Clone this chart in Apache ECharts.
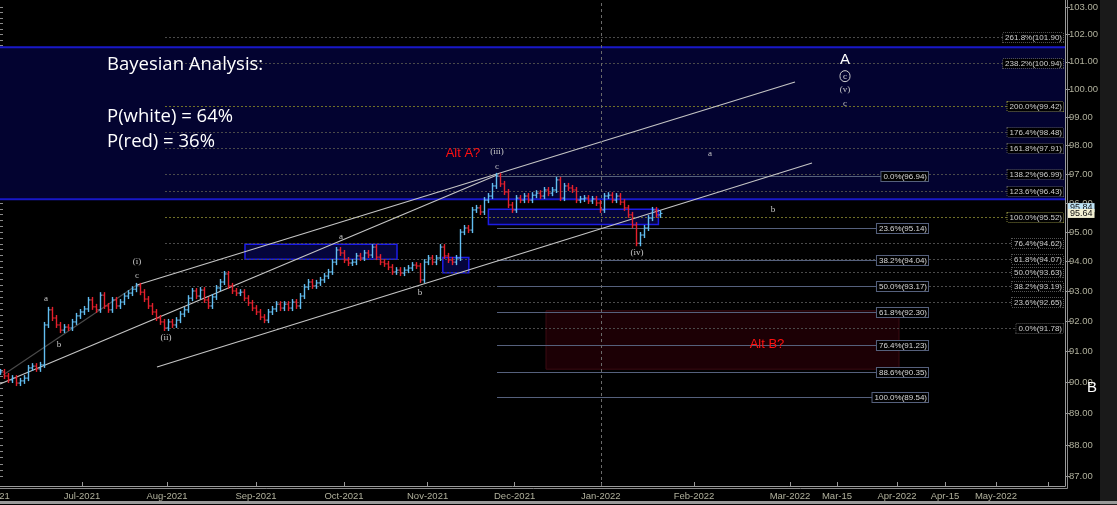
<!DOCTYPE html>
<html><head><meta charset="utf-8">
<script src="https://cdn.jsdelivr.net/npm/echarts@6/dist/echarts.min.js"></script>
<style>html,body{margin:0;padding:0;background:#000;overflow:hidden;width:1117px;height:505px;position:relative}
#c{position:absolute;left:-40px;top:0;width:1157px;height:505px}</style>
</head><body><div id="c"></div>
<script>
// ---- DATA (x unit = one bar slot) ----
const closes = [90.34,90.21,90.08,90.14,89.98,90.05,90.14,90.47,90.53,90.44,
90.57,91.88,92.38,92.11,91.88,91.71,91.81,91.78,91.98,92.18,
92.31,92.41,92.71,92.48,92.38,92.87,92.51,92.38,92.71,92.51,
92.64,92.84,92.94,93.07,93.18,92.97,92.74,92.51,92.31,92.11,
91.98,91.78,91.98,91.88,92.04,92.24,92.38,92.77,93.01,92.84,
93.04,92.71,92.51,92.81,93.11,93.31,93.58,93.18,93.01,92.94,
92.97,92.77,92.61,92.44,92.31,92.14,92.04,92.31,92.41,92.57,
92.44,92.57,92.44,92.64,92.51,92.84,93.14,93.31,93.18,93.28,
93.38,93.51,93.65,93.98,94.39,94.29,94.05,93.95,93.98,94.19,
94.12,94.29,94.22,94.49,94.15,93.98,93.92,93.81,93.65,93.71,
93.61,93.71,93.78,93.88,93.85,93.38,93.98,94.12,93.98,94.12,
94.49,94.19,94.05,93.98,94.12,95.00,95.14,95.07,95.76,95.83,
95.69,96.10,96.24,96.59,96.94,96.66,96.38,95.93,95.76,96.17,
96.10,96.24,96.10,96.27,96.34,96.24,96.45,96.34,96.45,96.80,
96.17,96.59,96.52,96.45,96.10,96.14,96.17,96.07,96.14,96.00,
95.76,96.24,96.27,96.10,96.24,96.03,95.83,95.59,95.24,94.62,
94.90,95.14,95.48,95.76,95.59,95.64];

const xTickLabels = ['Jun-2021','Jul-2021','Aug-2021','Sep-2021','Oct-2021','Nov-2021','Dec-2021',
  'Jan-2022','Feb-2022','Mar-2022','Mar-15','Apr-2022','Apr-15','May-2022',''];
const xTickPos = [-2.5,20.5,41.75,64,86,106.9,128.65,150.2,173.5,197.5,209.25,224.25,236.25,249,262];

const yTickValues = [87,88,89,90,91,92,93,94,95,96,97,98,99,100,101,102,103];

// Fibonacci extension levels (right-hand set)
const fibExtNames  = ['261.8%','238.2%','200.0%','176.4%','161.8%','138.2%','123.6%','100.0%','76.4%','61.8%','50.0%','38.2%','23.6%','0.0%'];
const fibExtValues = [101.90,100.94,99.42,98.48,97.91,96.99,96.43,95.52,94.62,94.07,93.63,93.19,92.65,91.78];
const fibExtStart = 41.25;
// Fibonacci retracement levels (middle set)
const fibRetNames  = ['0.0%','23.6%','38.2%','50.0%','61.8%','76.4%','88.6%','100.0%'];
const fibRetValues = [96.94,95.14,94.04,93.17,92.30,91.23,90.35,89.54];
const fibRetStart = 124.25, fibRetEnd = 232;

// Zones: [kind, xFrom, xTo, priceLow, priceHigh]
const zones = [
  ['band', -10, 266.25, 96.13, 101.53],
  ['box', 61.25, 99.25, 94.08, 94.59],
  ['box', 110.7, 117.2, 93.62, 94.14],
  ['box', 122.1, 164.6, 95.26, 95.78],
  ['red', 136.5, 224.75, 90.43, 92.35]
];

// Trend lines: [[x1, p1], [x2, p2], kind]
const trendLines = [
  [[34.25, 93.21], [198.75, 100.27], 'l'],
  [[0, 89.95], [124.25, 96.97], 'l'],
  [[39.25, 90.50], [203, 97.39], 'l'],
  [[0.75, 90.24], [34.25, 93.21], 'd']
];

// Wave labels: [text, x, price, kind]
const waveLabels = [
  ['a', 11.5, 92.77, 'w'], ['b', 14.75, 91.22, 'w'], ['(i)', 34.25, 93.98, 'w'], ['c', 34.25, 93.51, 'w'],
  ['(ii)', 41.5, 91.45, 'w'], ['a', 85.25, 94.83, 'w'], ['b', 105, 92.94, 'w'], ['(iii)', 124.25, 97.78, 'w'],
  ['c', 124.25, 97.28, 'w'], ['(iv)', 159.25, 94.29, 'w'], ['a', 177.5, 97.71, 'w'], ['b', 193.25, 95.76, 'w'],
  ['A', 211.25, 101.08, 'big'], ['c', 211.25, 100.48, 'circ'], ['(v)', 211.25, 99.98, 'w'], ['c', 211.25, 99.48, 'w'],
  ['B', 273, 89.82, 'big'],
  ['Alt A?', 115.75, 97.71, 'red'], ['Alt B?', 191.75, 91.25, 'red']
];

const lastMarkers = [[95.84, 'blue'], [95.64, 'cream']];
const todayLine = 150.2;

// ---- CHART ----
const X_MIN = -10, X_MAX = 266.25, Y_MIN = 86.71, Y_MAX = 103.27;
const OFF = 40; // container is shifted 40px left so the first slots sit off-canvas
const L = Math.log;
const FONT = '"Liberation Sans", Arial, sans-serif';
const chart = echarts.init(document.getElementById('c'), null, {renderer: 'canvas'});

const minorTicks = [];
for (let v = 87; v <= 103.001; v += 0.2) minorTicks.push(L(+v.toFixed(1)));

function xLabel(v) {
  for (let i = 0; i < xTickPos.length; i++) if (Math.abs(xTickPos[i] - v) < 1e-6) return xTickLabels[i];
  return '';
}

const ohlc = closes.map((c, i) => [i, L(i > 0 ? closes[i - 1] : c), L(c)]);

const series = [];
// zones
series.push({
  type: 'custom', z: 1, silent: true,
  data: zones.map(z => [z[1], L(z[3]), z[2], L(z[4])]),
  renderItem(params, api) {
    const k = zones[params.dataIndex][0];
    const p1 = api.coord([api.value(0), api.value(3)]);
    const p2 = api.coord([api.value(2), api.value(1)]);
    const x = p1[0], y = p1[1], w = p2[0] - p1[0], h = p2[1] - p1[1];
    if (k === 'band') {
      return {type: 'group', children: [
        {type: 'rect', shape: {x, y, width: w, height: h}, style: {fill: '#030330'}},
        {type: 'line', shape: {x1: x, y1: y, x2: x + w, y2: y}, style: {stroke: '#1818c8', lineWidth: 2}},
        {type: 'line', shape: {x1: x, y1: y + h, x2: x + w, y2: y + h}, style: {stroke: '#1818c8', lineWidth: 2}}
      ]};
    }
    if (k === 'box') {
      return {type: 'rect', shape: {x, y, width: w, height: h}, style: {fill: 'rgba(10,10,110,0.55)', stroke: '#1c1ce6', lineWidth: 1.5}};
    }
    return {type: 'rect', shape: {x, y, width: w, height: h}, style: {fill: '#1c0005', stroke: '#3a0a12', lineWidth: 1}};
  }
});
// fib extension (dotted, right)
series.push({
  type: 'custom', z: 3, silent: true,
  data: fibExtValues.map(v => [fibExtStart, L(v)]),
  renderItem(params, api) {
    const i = params.dataIndex;
    const y = Math.round(api.coord([0, api.value(1)])[1]) + 0.5;
    const xs = api.coord([api.value(0), 0])[0];
    const xe = api.coord([X_MAX, 0])[0];
    const olive = fibExtNames[i] === '200.0%' || fibExtNames[i] === '100.0%';
    return {type: 'group', children: [
      {type: 'line', shape: {x1: xs, y1: y, x2: xe, y2: y}, style: {stroke: olive ? '#707028' : '#4a4a4a', lineWidth: 1, lineDash: [2, 2]}},
      {type: 'text', x: xe - 2, y: y, style: {
        text: fibExtNames[i] + '(' + fibExtValues[i].toFixed(2) + ')', align: 'right', verticalAlign: 'middle',
        font: '8px ' + FONT, fill: '#cfcfcf', backgroundColor: '#000',
        borderColor: olive ? '#80803a' : '#555', borderWidth: 1, borderDash: [1, 1], padding: [1, 1, 0, 2]}}
    ]};
  }
});
// fib retracement (solid, middle)
series.push({
  type: 'custom', z: 3, silent: true,
  data: fibRetValues.map(v => [fibRetStart, L(v)]),
  renderItem(params, api) {
    const i = params.dataIndex;
    const y = Math.round(api.coord([0, api.value(1)])[1]) + 0.5;
    const xs = api.coord([api.value(0), 0])[0];
    const xe = api.coord([fibRetEnd, 0])[0];
    return {type: 'group', children: [
      {type: 'line', shape: {x1: xs, y1: y, x2: xe - 20, y2: y}, style: {stroke: '#55607c', lineWidth: 1}},
      {type: 'text', x: xe, y: y, style: {
        text: fibRetNames[i] + '(' + fibRetValues[i].toFixed(2) + ')', align: 'right', verticalAlign: 'middle',
        font: '8px ' + FONT, fill: '#d8d8d8', backgroundColor: '#000',
        borderColor: '#55607c', borderWidth: 1, padding: [1, 1, 0, 2]}}
    ]};
  }
});
// trend lines
trendLines.forEach(t => series.push({
  type: 'line', z: 4, silent: true, symbol: 'none',
  data: [[t[0][0], L(t[0][1])], [t[1][0], L(t[1][1])]],
  lineStyle: {color: t[2] === 'd' ? '#4a4a4a' : '#c4c4c4', width: 1.2}
}));
// price bars
series.push({
  type: 'custom', z: 5, silent: true,
  data: ohlc,
  renderItem(params, api) {
    const x = api.value(0), o = api.value(1), c = api.value(2);
    const pO = api.coord([x, o]), pC = api.coord([x, c]);
    const col = c >= o ? '#62bdf0' : '#e4202c';
    const top = Math.min(pO[1], pC[1]) - 3, bot = Math.max(pO[1], pC[1]) + 3;
    const px = Math.round(pO[0]) + 0.5;
    return {type: 'group', children: [
      {type: 'line', shape: {x1: px, y1: top, x2: px, y2: bot}, style: {stroke: col, lineWidth: 1.4}},
      {type: 'line', shape: {x1: px - 2, y1: pO[1], x2: px, y2: pO[1]}, style: {stroke: col, lineWidth: 1}},
      {type: 'line', shape: {x1: px, y1: pC[1], x2: px + 2, y2: pC[1]}, style: {stroke: col, lineWidth: 1}}
    ]};
  },
  markLine: {
    silent: true, symbol: 'none', label: {show: false},
    lineStyle: {color: '#6a6a6a', type: [3, 3], width: 1},
    data: [{xAxis: todayLine}]
  }
});
// wave labels
series.push({
  type: 'custom', z: 8, silent: true, clip: false,
  data: waveLabels.map(w => [w[1], L(w[2])]),
  renderItem(params, api) {
    const w = waveLabels[params.dataIndex];
    const p = api.coord([api.value(0), api.value(1)]);
    const st = {text: w[0], align: 'center', verticalAlign: 'middle'};
    if (w[3] === 'w') Object.assign(st, {font: '9px "Liberation Serif", serif', fill: '#c8c8c8'});
    else if (w[3] === 'circ') Object.assign(st, {font: '9px "Liberation Serif", serif', fill: '#e0e0e0', borderColor: '#d0d0d0', borderWidth: 1, borderRadius: 7, padding: [1, 3, 1, 3]});
    else if (w[3] === 'big') Object.assign(st, {font: '15px ' + FONT, fill: '#ffffff'});
    else Object.assign(st, {font: '13px ' + FONT, fill: '#ff1010'});
    return {type: 'text', x: p[0], y: p[1], style: st};
  }
});
// last price markers on axis
series.push({
  type: 'custom', z: 9, silent: true, clip: false,
  data: lastMarkers.map(m => [X_MAX, L(m[0])]),
  renderItem(params, api) {
    const m = lastMarkers[params.dataIndex];
    const p = api.coord([api.value(0), api.value(1)]);
    const blue = m[1] === 'blue';
    return {type: 'text', x: p[0] + 3, y: p[1], style: {
      text: m[0].toFixed(2), align: 'left', verticalAlign: 'middle', font: '9px ' + FONT,
      fill: '#101010', backgroundColor: blue ? '#bfe4f6' : '#f2efd2', padding: [0, 2, 0, 2]}};
  }
});

const TXT = '18.5px "Open Sans", sans-serif';
chart.setOption({
  animation: false,
  backgroundColor: '#000',
  grid: {left: 0, right: 52, top: 0, bottom: 19, containLabel: false},
  xAxis: {
    type: 'value', min: X_MIN, max: X_MAX,
    splitLine: {show: false},
    axisLine: {show: true, onZero: false, lineStyle: {color: '#9a9a9a'}},
    axisTick: {show: true, inside: true, length: 4, customValues: xTickPos, lineStyle: {color: '#9a9a9a'}},
    axisLabel: {show: true, customValues: xTickPos, formatter: xLabel, color: '#b0b09c', fontSize: 9.5, fontFamily: FONT, margin: 5}
  },
  yAxis: [{
    type: 'value', position: 'right', min: L(Y_MIN), max: L(Y_MAX),
    splitLine: {show: false},
    axisLine: {show: true, onZero: false, lineStyle: {color: '#9a9a9a'}},
    axisTick: {show: true, length: 5, customValues: yTickValues.map(L), lineStyle: {color: '#9a9a9a'}},
    axisLabel: {show: true, customValues: yTickValues.map(L), formatter: v => Math.exp(v).toFixed(2),
      color: '#b0b09c', fontSize: 9.5, fontFamily: FONT, margin: 4}
  }, {
    type: 'value', position: 'right', min: L(Y_MIN), max: L(Y_MAX),
    splitLine: {show: false}, axisLine: {show: false},
    axisTick: {show: true, length: 3, customValues: minorTicks, lineStyle: {color: '#8a8a8a'}},
    axisLabel: {show: false}
  }],
  series: series,
  graphic: [
    {type: 'polyline', shape: {points: [[OFF + 1067.5, 0], [OFF + 1067.5, 488.5], [OFF, 488.5]]}, style: {stroke: '#8a8a8a', lineWidth: 1, fill: null}, z: 100},
    {type: 'rect', left: OFF + 1100, top: 0, shape: {width: 17, height: 505}, style: {fill: '#1a1a1a'}, z: 100},
    {type: 'rect', left: OFF, top: 501, shape: {width: 1117, height: 3}, style: {fill: '#9a9a9a'}, z: 100},
    {type: 'text', left: OFF + 107, top: 55, style: {text: 'Bayesian Analysis:', font: TXT, fill: '#ffffff'}, z: 100},
    {type: 'text', left: OFF + 107, top: 107, style: {text: 'P(white) = 64%', font: TXT, fill: '#ffffff'}, z: 100},
    {type: 'text', left: OFF + 107, top: 132, style: {text: 'P(red) = 36%', font: TXT, fill: '#ffffff'}, z: 100}
  ]
});
</script>
</body></html>
